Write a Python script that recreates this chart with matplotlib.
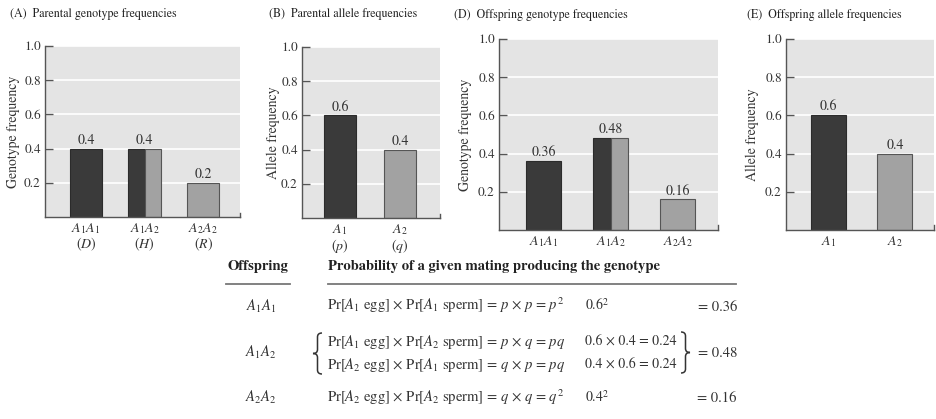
import matplotlib
matplotlib.use("Agg")
import matplotlib.pyplot as plt
from matplotlib.path import Path
from matplotlib.patches import PathPatch

plt.rcParams["font.family"] = "STIXGeneral"
plt.rcParams["mathtext.fontset"] = "stix"

# genotype / allele frequencies
parent_geno_labels = ["$A_1A_1$\n$(D)$", "$A_1A_2$\n$(H)$", "$A_2A_2$\n$(R)$"]
parent_geno_freq = [0.4, 0.4, 0.2]
parent_geno_kind = ["dark", "split", "light"]

parent_allele_labels = ["$A_1$\n$(p)$", "$A_2$\n$(q)$"]
parent_allele_freq = [0.6, 0.4]
allele_kind = ["dark", "light"]

offspring_geno_labels = ["$A_1A_1$", "$A_1A_2$", "$A_2A_2$"]
offspring_geno_freq = [0.36, 0.48, 0.16]

offspring_allele_labels = ["$A_1$", "$A_2$"]
offspring_allele_freq = [0.6, 0.4]

yticks = [0.2, 0.4, 0.6, 0.8, 1.0]

DARK = "#3a3a3a"
LIGHT = "#a2a2a2"
EDGE = "#2b2b2b"
BG = "#e4e4e4"
TXT = "#333333"

W, H = 937, 419
fig = plt.figure(figsize=(W / 100, H / 100), dpi=100)


def add_panel(left, top, right, bottom, xlim):
    ax = fig.add_axes([left / W, 1 - bottom / H, (right - left) / W, (bottom - top) / H])
    ax.set_xlim(*xlim)
    ax.set_ylim(0, 1.0)
    ax.set_facecolor(BG)
    for s in ["top", "right"]:
        ax.spines[s].set_visible(False)
    for s in ["left", "bottom"]:
        ax.spines[s].set_color("#555555")
        ax.spines[s].set_linewidth(1.0)
    ax.set_yticks(yticks)
    ax.set_yticklabels([f"{t:.1f}" for t in yticks])
    ax.yaxis.grid(True, color="white", linewidth=1.2)
    ax.set_axisbelow(True)
    ax.tick_params(axis="y", direction="in", length=6, width=1, color="#555555",
                   labelsize=9.5, labelcolor=TXT, pad=3)
    ax.tick_params(axis="x", length=0, labelsize=10, labelcolor=TXT, pad=3)
    # little end tick on the x axis
    ax.plot([1, 1], [0, 0.025], transform=ax.transAxes, color="#555555",
            lw=1, clip_on=False)
    return ax


def draw_bars(ax, values, kinds, labels, width, fmt):
    xs = list(range(len(values)))
    for x, v, k in zip(xs, values, kinds):
        if k == "split":
            ax.bar(x - width / 4, v, width / 2, color=DARK, edgecolor=EDGE, linewidth=0.8)
            ax.bar(x + width / 4, v, width / 2, color=LIGHT, edgecolor="#555555", linewidth=0.8)
        else:
            ax.bar(x, v, width, color=DARK if k == "dark" else LIGHT,
                   edgecolor=EDGE if k == "dark" else "#555555", linewidth=0.8)
        ax.text(x, v + 0.01, fmt(v), ha="center", va="bottom", fontsize=10, color=TXT)
    ax.set_xticks(xs)
    ax.set_xticklabels(labels, linespacing=1.0)


def title(x, y, s):
    fig.text(x / W, 1 - y / H, s, fontsize=8.6, color="#222222", ha="left", va="center")


def ylabel(x, y, s):
    fig.text(x / W, 1 - y / H, s, fontsize=10, color=TXT, rotation=90,
             ha="center", va="center")


fmt1 = lambda v: f"{v:.1f}"
fmt2 = lambda v: f"{v:.2f}"

# (A)
axA = add_panel(45, 46, 240, 217, (-0.70, 2.63))
draw_bars(axA, parent_geno_freq, parent_geno_kind, parent_geno_labels, 0.55, fmt1)
title(10, 14, "(A)  Parental genotype frequencies")
ylabel(13, 132, "Genotype frequency")

# (B)
axB = add_panel(302, 47, 440, 218, (-0.633, 1.667))
draw_bars(axB, parent_allele_freq, allele_kind, parent_allele_labels, 0.533, fmt1)
title(269, 14, "(B)  Parental allele frequencies")
ylabel(273, 133, "Allele frequency")

# (D)
axD = add_panel(499, 39, 718, 230, (-0.664, 2.60))
draw_bars(axD, offspring_geno_freq, parent_geno_kind, offspring_geno_labels, 0.52, fmt2)
title(454, 15, "(D)  Offspring genotype frequencies")
ylabel(465, 135, "Genotype frequency")

# (E)
axE = add_panel(786, 39, 934, 230, (-0.64, 1.59))
draw_bars(axE, offspring_allele_freq, allele_kind, offspring_allele_labels, 0.53, fmt1)
title(747, 15, "(E)  Offspring allele frequencies")
ylabel(752, 135, "Allele frequency")

# table of mating probabilities, laid out in pixel coordinates
tab = fig.add_axes([0, 0, 1, 1])
tab.set_xlim(0, W)
tab.set_ylim(H, 0)
tab.axis("off")
tab.patch.set_alpha(0)

FS = 10.5
tab.text(258, 270, "Offspring", fontsize=FS, fontweight="bold", color="#222222",
         ha="center", va="baseline")
tab.text(328, 270, "Probability of a given mating producing the genotype", fontsize=FS,
         fontweight="bold", color="#222222", ha="left", va="baseline")
tab.plot([226, 290], [284, 284], color="#777777", lw=1.3)
tab.plot([328, 736], [284, 284], color="#777777", lw=1.3)

row_labels = ["$A_1A_1$", "$A_1A_2$", "$A_2A_2$"]
row_label_y = [311, 357, 402]
eq_lines = [
    r"Pr[$A_1$ egg] × Pr[$A_1$ sperm] = $p$ × $p$ = $p^2$",
    r"Pr[$A_1$ egg] × Pr[$A_2$ sperm] = $p$ × $q$ = $pq$",
    r"Pr[$A_2$ egg] × Pr[$A_1$ sperm] = $q$ × $p$ = $pq$",
    r"Pr[$A_2$ egg] × Pr[$A_2$ sperm] = $q$ × $q$ = $q^2$",
]
num_lines = [r"0.6$^2$", "0.6 × 0.4 = 0.24", "0.4 × 0.6 = 0.24", r"0.4$^2$"]
eq_y = [310, 346, 369, 402]
results = ["= 0.36", "= 0.48", "= 0.16"]

for s, y in zip(row_labels, row_label_y):
    tab.text(261, y, s, fontsize=FS, color=TXT, ha="center", va="baseline")
for s, n, y in zip(eq_lines, num_lines, eq_y):
    tab.text(327, y, s, fontsize=FS, color=TXT, ha="left", va="baseline")
    tab.text(585, y, n, fontsize=10, color=TXT, ha="left", va="baseline")
for s, y in zip(results, row_label_y):
    tab.text(737, y, s, fontsize=FS, color=TXT, ha="right", va="baseline")


def brace(x_tip, x_end, y0, y1):
    # curly brace with its point at x_tip and its arms ending at x_end
    xm = (x_tip + x_end) / 2
    ym = (y0 + y1) / 2
    r = 4
    verts = [(x_end, y0), (xm, y0), (xm, y0 + r),
             (xm, ym - r), (xm, ym), (x_tip, ym),
             (xm, ym), (xm, ym + r),
             (xm, y1 - r), (xm, y1), (x_end, y1)]
    codes = [Path.MOVETO, Path.CURVE3, Path.CURVE3,
             Path.LINETO, Path.CURVE3, Path.CURVE3,
             Path.CURVE3, Path.CURVE3,
             Path.LINETO, Path.CURVE3, Path.CURVE3]
    tab.add_patch(PathPatch(Path(verts, codes), fill=False, edgecolor=TXT, lw=1.1))


brace(313, 322, 333, 374)
brace(690, 681, 332, 373)

fig.savefig("out.png", dpi=100)
